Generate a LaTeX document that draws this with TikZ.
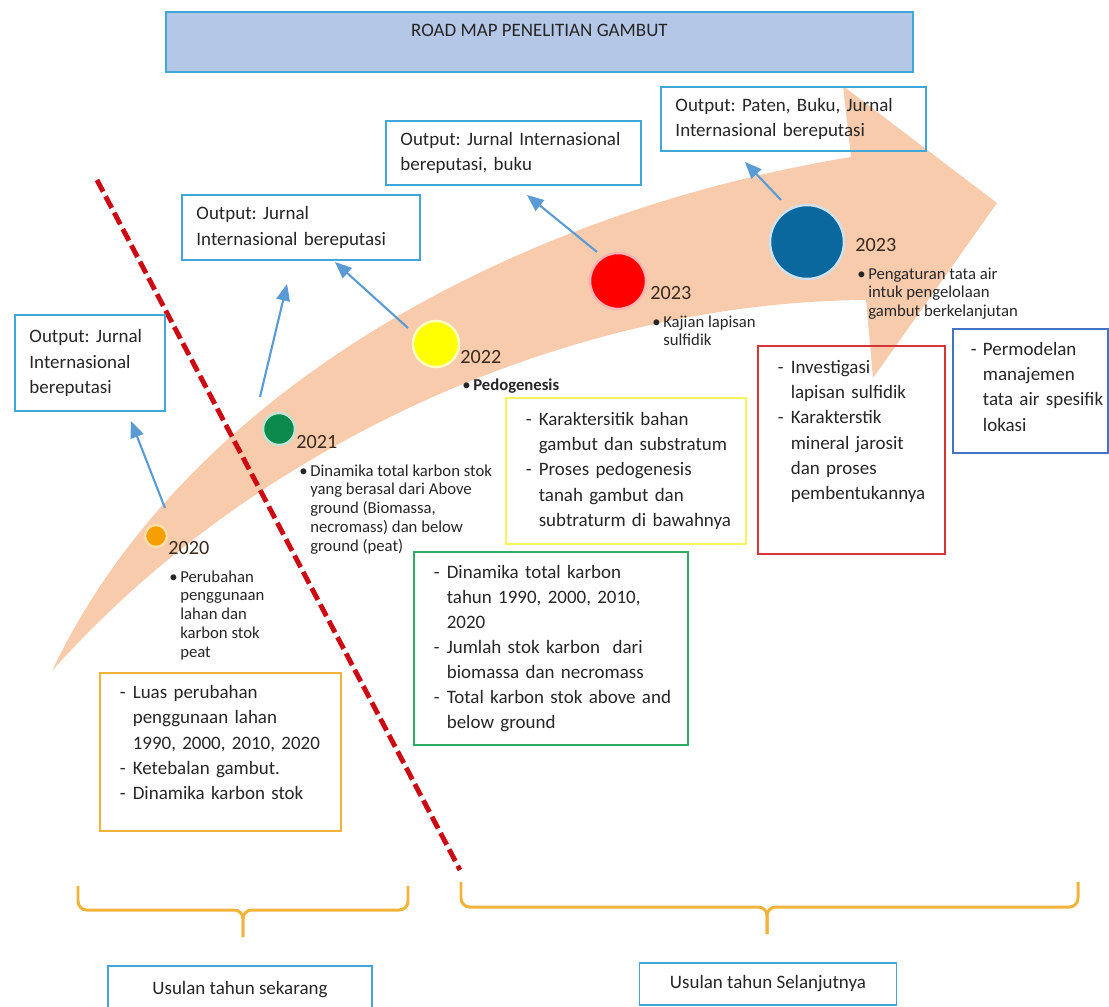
\documentclass[tikz,border=0pt]{standalone}
\usepackage{fontspec}
\setmainfont{Carlito}
\frenchspacing
\usetikzlibrary{arrows}

\definecolor{peach}{HTML}{F8CBAD}
\definecolor{boxcyan}{HTML}{3FA8D8}
\definecolor{titlefill}{HTML}{B4C7E7}
\definecolor{arrowblue}{HTML}{5B9BD5}
\definecolor{dashred}{HTML}{CC0A14}
\definecolor{braceorange}{HTML}{F2B33A}
\definecolor{boxorange}{HTML}{F2B33A}
\definecolor{boxgreen}{HTML}{2EAD63}
\definecolor{boxyellow}{HTML}{F5F55A}
\definecolor{boxred}{HTML}{D63437}
\definecolor{boxblue}{HTML}{4472C4}
\definecolor{txt}{HTML}{262626}
\definecolor{yeartxt}{HTML}{3B2A1C}
\definecolor{dotorange}{HTML}{F5A000}
\definecolor{dotgreen}{HTML}{0B8A4E}
\definecolor{dotyellow}{HTML}{FFFF00}
\definecolor{dotred}{HTML}{FF0000}
\definecolor{dotblue}{HTML}{0A689F}

\begin{document}
\begin{tikzpicture} [ x=0.02cm, y=-0.02cm
                    , font=\fontsize{10.8}{14.3}\selectfont
                    , text=txt
                    , outbox/.style={draw=boxcyan, line width=1.1pt, anchor=north west, align=left, inner xsep=0.29cm, inner ysep=0pt}
                    , listbox/.style={line width=1.1pt, anchor=north west, inner xsep=0.4cm, inner ysep=0pt}
                    , dot/.style={circle, inner sep=0pt, line width=1.4pt}
                    , year/.style={anchor=base west, inner sep=0pt, text=yeartxt, font=\fontsize{11.5}{13}\selectfont}
                    , note/.style={anchor=base west, inner sep=0pt, font=\fontsize{9.5}{10.7}\selectfont}
                    , outarrow/.style={draw=arrowblue, line width=1.2pt, -triangle 45}
                    , bracket/.style={draw=braceorange, line width=1.7pt, rounded corners=5pt}
                    , usulan/.style={draw=boxcyan, line width=1.1pt, inner sep=0pt}
                    ]

  \useasboundingbox (0,0) rectangle (1109,1007);

  % --- Road (curved arrow) ---------------------------------------------------
  \fill [peach] (52,671) .. controls (180,400) and (500,215) .. (851,157)
                -- (843,86) -- (997,203) -- (873,378) -- (866,300)
                .. controls (565,302) and (250,448) .. (52,671) -- cycle;

  \draw [ dashred
        , line width=2.8pt
        , dash pattern=on 7.5pt off 3pt
        ]
        (97,180) -- (460,870);
  % ---------------------------------------------------------------------------

  % --- Title -----------------------------------------------------------------
  \node [ draw=boxcyan
        , fill=titlefill
        , line width=1.1pt
        , anchor=north west
        , minimum width=14.94cm
        , minimum height=1.2cm
        , text height=7.5pt
        , text depth=13.5pt
        ]
        (TITLE) at (165,11) {ROAD MAP PENELITIAN GAMBUT};
  % ---------------------------------------------------------------------------

  % --- Milestones ------------------------------------------------------------
  \node [dot, fill=dotorange, draw=white!65!dotorange, minimum size=0.44cm] (C20)  at (156,536) {};
  \node [dot, fill=dotgreen,  draw=white!75!dotgreen,  minimum size=0.64cm] (C21)  at (279,429) {};
  \node [dot, fill=dotyellow, draw=white!75!dotyellow, minimum size=0.92cm] (C22)  at (436,344) {};
  \node [dot, fill=dotred,    draw=white!70!dotred,    minimum size=1.12cm] (C23A) at (618,281) {};
  \node [dot, fill=dotblue,   draw=white!80!dotblue,   minimum size=1.48cm] (C23B) at (807,242) {};

  \node [year] (Y20)  at (168,554) {2020};
  \node [year] (Y21)  at (296,448) {2021};
  \node [year] (Y22)  at (460,363) {2022};
  \node [year] (Y23A) at (650,299) {2023};
  \node [year] (Y23B) at (855,251) {2023};

  \node [note] (N20) at (169,582)
        {\begin{tabular}[t]{@{}l@{\hspace{1.5pt}}l@{}}
         \textbullet & Perubahan\\
                     & penggunaan\\
                     & lahan dan\\
                     & karbon stok\\
                     & peat
         \end{tabular}};

  \node [note] (N21) at (299,476)
        {\begin{tabular}[t]{@{}l@{\hspace{1.5pt}}l@{}}
         \textbullet & Dinamika total karbon stok\\
                     & yang berasal dari Above\\
                     & ground (Biomassa,\\
                     & necromass) dan below\\
                     & ground (peat)
         \end{tabular}};

  \node [note] (N22) at (462,390) {\textbullet\hspace{1.5pt}\textbf{Pedogenesis}};

  \node [note] (N23A) at (652,327)
        {\begin{tabular}[t]{@{}l@{\hspace{1.5pt}}l@{}}
         \textbullet & Kajian lapisan\\
                     & sulfidik
         \end{tabular}};

  \node [note] (N23B) at (857,279)
        {\begin{tabular}[t]{@{}l@{\hspace{1.5pt}}l@{}}
         \textbullet & Pengaturan tata air\\
                     & intuk pengelolaan\\
                     & gambut berkelanjutan
         \end{tabular}};
  % ---------------------------------------------------------------------------

  % --- Outputs ---------------------------------------------------------------
  \node [ outbox
        , text width=2.42cm
        , minimum height=1.92cm
        ]
        (OUT20) at (14,314) {Output: Jurnal\\Internasional\\bereputasi};

  \node [ outbox
        , text width=4.18cm
        , minimum height=1.30cm
        ]
        (OUT21) at (181,194) {Output: Jurnal\\Internasional bereputasi};

  \node [ outbox
        , text width=4.52cm
        , minimum height=1.28cm
        ]
        (OUT22) at (385,120) {Output: Jurnal Internasional\\bereputasi, buku};

  \node [ outbox
        , text width=4.72cm
        , minimum height=1.28cm
        ]
        (OUT23) at (660,86) {Output: Paten, Buku, Jurnal\\Internasional bereputasi};

  \coordinate (A20s)  at (165,508);  \coordinate (A20e)  at (131,421);
  \coordinate (A21s)  at (260,397);  \coordinate (A21e)  at (287,284);
  \coordinate (A22s)  at (408,328);  \coordinate (A22e)  at (335,262);
  \coordinate (A23As) at (597,252);  \coordinate (A23Ae) at (527,195);
  \coordinate (A23Bs) at (781,200);  \coordinate (A23Be) at (745,162);

  \draw [outarrow] (A20s)  -- (A20e);
  \draw [outarrow] (A21s)  -- (A21e);
  \draw [outarrow] (A22s)  -- (A22e);
  \draw [outarrow] (A23As) -- (A23Ae);
  \draw [outarrow] (A23Bs) -- (A23Be);
  % ---------------------------------------------------------------------------

  % --- Activities ------------------------------------------------------------
  \node [ listbox
        , draw=boxorange
        , text width=4.02cm
        , minimum height=3.16cm
        ]
        (K20) at (99,672)
        {\begin{tabular}{@{}l@{\hspace{4pt}}l@{}}
         - & Luas perubahan\\
           & penggunaan lahan\\
           & 1990, 2000, 2010, 2020\\
         - & Ketebalan gambut.\\
         - & Dinamika karbon stok\\[9pt]
         \end{tabular}};

  \node [ listbox
        , draw=boxgreen
        , text width=4.68cm
        , minimum height=3.86cm
        ]
        (K21) at (413,551)
        {\begin{tabular}{@{}l@{\hspace{4pt}}l@{}}
         - & Dinamika total karbon\\
           & tahun 1990, 2000, 2010,\\
           & 2020\\
         - & Jumlah stok karbon~ dari\\
           & biomassa dan necromass\\
         - & Total karbon stok above and\\
           & below ground
         \end{tabular}};

  \node [ listbox
        , draw=boxyellow
        , text width=4.0cm
        , minimum height=2.92cm
        ]
        (K22) at (505,397)
        {\begin{tabular}{@{}l@{\hspace{4pt}}l@{}}
         - & Karaktersitik bahan\\
           & gambut dan substratum\\
         - & Proses pedogenesis\\
           & tanah gambut dan\\
           & subtraturm di bawahnya
         \end{tabular}};

  \node [ listbox
        , draw=boxred
        , text width=2.94cm
        , minimum height=4.16cm
        ]
        (K23A) at (757,345)
        {\begin{tabular}{@{}l@{\hspace{4pt}}l@{}}
         - & Investigasi\\
           & lapisan sulfidik\\
         - & Karakterstik\\
           & mineral jarosit\\
           & dan proses\\
           & pembentukannya\\[21pt]
         \end{tabular}};

  \node [ listbox
        , draw=boxblue
        , inner xsep=0.36cm
        , text width=2.38cm
        , minimum height=2.48cm
        ]
        (K23B) at (952,328)
        {\begin{tabular}{@{}l@{\hspace{3.5pt}}l@{}}
         - & Permodelan\\
           & manajemen\\
           & tata air spesifik\\
           & lokasi\\[3pt]
         \end{tabular}};
  % ---------------------------------------------------------------------------

  % --- Proposal periods ------------------------------------------------------
  \draw [bracket] (78,886)   -- (78,910)   -- (243,910) -- (243,937);
  \draw [bracket] (408,886)  -- (408,910)  -- (243,910) -- (243,937);
  \draw [bracket] (461,882)  -- (461,907)  -- (767,907) -- (767,934);
  \draw [bracket] (1078,882) -- (1078,907) -- (767,907) -- (767,934);

  \node [ usulan
        , minimum width=5.28cm
        , minimum height=0.96cm
        ]
        (NOW) at (240,990) {Usulan tahun sekarang};

  \node [ usulan
        , minimum width=5.14cm
        , minimum height=0.84cm
        ]
        (NEXT) at (768,984) {Usulan tahun Selanjutnya};
  % ---------------------------------------------------------------------------
\end{tikzpicture}
\end{document}
